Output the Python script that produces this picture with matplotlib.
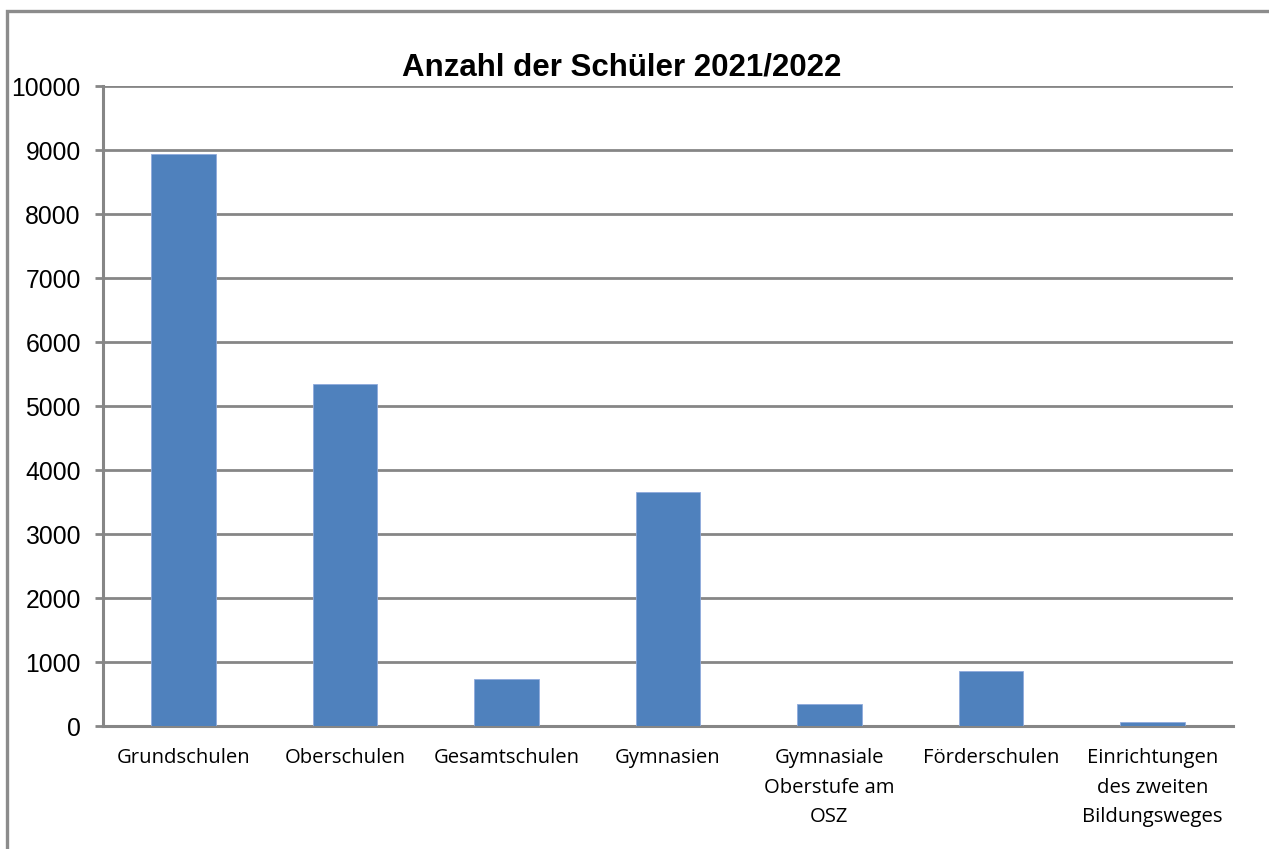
import matplotlib.pyplot as plt
from matplotlib.patches import Rectangle

# Schülerzahlen 2021/2022
kategorien = ['Grundschulen', 'Oberschulen', 'Gesamtschulen', 'Gymnasien',
              'Gymnasiale\nOberstufe am\nOSZ', 'Förderschulen',
              'Einrichtungen\ndes zweiten\nBildungsweges']
schueler = [8940, 5340, 730, 3650, 340, 860, 65]
y_ticks = [0, 1000, 2000, 3000, 4000, 5000, 6000, 7000, 8000, 9000, 10000]

fig = plt.figure(figsize=(12.69, 8.49), dpi=100)
ax = fig.add_axes([103/1269, 1 - 726/849, 1130/1269, 640/849])

x = range(len(kategorien))
ax.bar(x, schueler, width=0.4, color='#4F81BD', edgecolor='#8FAADC', linewidth=0.6, zorder=3)

ax.set_xlim(-0.5, len(kategorien) - 0.5)
ax.set_ylim(0, 10000)
ax.set_yticks(y_ticks)
ax.set_yticklabels([str(v) for v in y_ticks], fontsize=17.8, family='Liberation Sans')
ax.set_xticks(list(x))
ax.set_xticklabels(kategorien, fontsize=14.6, family='Open Sans', linespacing=1.62, va='top')

# Gitterlinien und Achsen
ax.grid(axis='y', color='#868686', linewidth=2, zorder=0)
for s in ['top', 'right']:
    ax.spines[s].set_visible(False)
for s in ['left', 'bottom']:
    ax.spines[s].set_color('#868686')
    ax.spines[s].set_linewidth(2.2)
ax.tick_params(axis='y', length=6, width=2, color='#868686', pad=10)
ax.tick_params(axis='x', length=0, pad=16)

fig.text(622/1269, 1 - 67/849, 'Anzahl der Schüler 2021/2022', ha='center', va='center',
         fontsize=22.5, fontweight='bold', family='Liberation Sans')

# Rahmen um das Diagramm
fig.patches.append(Rectangle((7/1269, -0.1), 1.2, 1 - 11/849 + 0.1, transform=fig.transFigure,
                             fill=False, edgecolor='#8C8C8C', linewidth=2.4))

fig.savefig('out.png', dpi=100)
